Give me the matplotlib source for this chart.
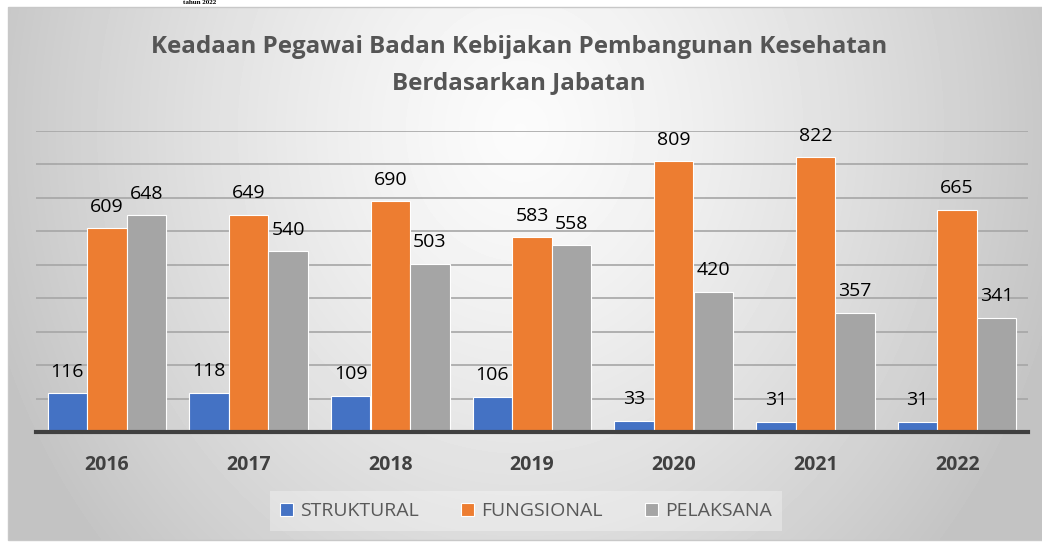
import numpy as np
import matplotlib
matplotlib.use("Agg")
import matplotlib.pyplot as plt
from matplotlib.patches import Rectangle

# ---- data
years = ["2016", "2017", "2018", "2019", "2020", "2021", "2022"]
struktural = [116, 118, 109, 106, 33, 31, 31]
fungsional = [609, 649, 690, 583, 809, 822, 665]
pelaksana = [648, 540, 503, 558, 420, 357, 341]
series_names = ["STRUKTURAL", "FUNGSIONAL", "PELAKSANA"]
colors = ["#4472C4", "#ED7D31", "#A5A5A5"]
title = "Keadaan Pegawai Badan Kebijakan Pembangunan Kesehatan\nBerdasarkan Jabatan"

plt.rcParams["font.family"] = ["Open Sans", "DejaVu Sans"]

W, H = 1042, 544
fig = plt.figure(figsize=(W / 100, H / 100), dpi=100)

# chart area background: soft radial gradient, light near the title
x0, y0, x1, y1 = 8, 7, 1042, 540
bg = fig.add_axes([x0 / W, 1 - y1 / H, (x1 - x0) / W, (y1 - y0) / H], zorder=0)
xx, yy = np.meshgrid(np.arange(x0, x1), np.arange(y0, y1))
d = np.sqrt(((xx - 520) / 560.0) ** 2 + ((yy - 130) / 640.0) ** 2)
d = np.clip(d, 0, 1)
shade = 0.985 - 0.22 * d ** 1.3
bg.imshow(shade, cmap="gray", vmin=0, vmax=1, aspect="auto", interpolation="bilinear")
bg.set_axis_off()
fig.patches.append(Rectangle((x0 / W, 1 - y1 / H), (x1 - x0) / W, (y1 - y0) / H,
                             transform=fig.transFigure, fill=False,
                             edgecolor="#c8c8c8", linewidth=1, zorder=1))

# caption from the page above the chart (squeezed into the white strip)
fig.text(200 / W, 1 - 0.5 / H, "tahun 2022", ha="center", va="top",
         family="Liberation Serif", fontweight="bold", fontsize=5, color="#000000")

ax = fig.add_axes([36 / W, 1 - 432 / H, (1028 - 36) / W, (432 - 131) / H], zorder=2)
ax.patch.set_alpha(0)

x = np.arange(len(years))
step = 0.279
width = 0.278
for i, (vals, c) in enumerate(zip([struktural, fungsional, pelaksana], colors)):
    bars = ax.bar(x + (i - 1) * step, vals, width, color=c, edgecolor="white",
                  linewidth=0.8, label=series_names[i], zorder=3)
    for b, v in zip(bars, vals):
        ax.annotate(str(v), (b.get_x() + b.get_width() / 2, v), xytext=(0, 9),
                    textcoords="offset points", ha="center", va="bottom",
                    fontsize=14, color="#000000", zorder=4)

ax.set_xlim(-0.5, len(years) - 0.5)
ax.set_ylim(0, 900)
ax.set_yticks(np.arange(100, 901, 100))
ax.yaxis.grid(True, color="#a6a6a6", linewidth=1.2, zorder=1)
ax.tick_params(axis="y", left=False, labelleft=False)
ax.tick_params(axis="x", bottom=False, pad=13)
ax.set_xticks(x)
ax.set_xticklabels(years, fontsize=14, fontweight="bold", color="#404040")
for s in ["top", "right", "left"]:
    ax.spines[s].set_visible(False)
ax.spines["bottom"].set_color("#404040")
ax.spines["bottom"].set_linewidth(3)
ax.spines["bottom"].set_zorder(5)

fig.text(519 / W, 1 - 65 / H, title, ha="center", va="center", fontsize=17.4,
         fontweight="bold", color="#555555", linespacing=1.7, zorder=3)

leg = ax.legend(loc="center", bbox_to_anchor=(526 / W, 1 - 511 / H),
                bbox_transform=fig.transFigure, ncol=3, frameon=True,
                fontsize=14, handlelength=0.65, handleheight=0.65,
                handletextpad=0.35, columnspacing=2.2, borderpad=0.55)
frame = leg.get_frame()
frame.set_facecolor("white")
frame.set_alpha(0.3)
frame.set_edgecolor("none")
frame.set_boxstyle("square", pad=0)
for t in leg.get_texts():
    t.set_color("#595959")

fig.savefig("out.png", dpi=100)
